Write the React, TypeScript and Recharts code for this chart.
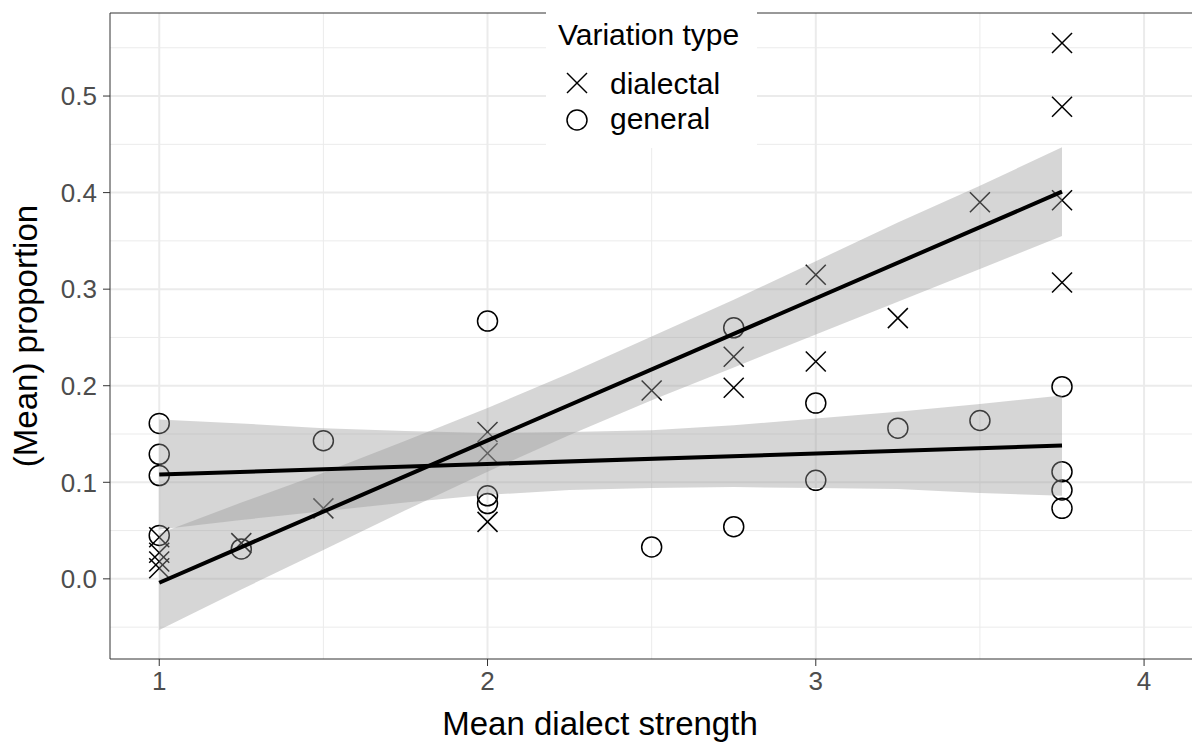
import React from "react";
import {
  Area,
  CartesianGrid,
  ComposedChart,
  Legend,
  Line,
  ReferenceLine,
  Scatter,
  XAxis,
  YAxis,
} from "recharts";

const dialectalX = [1, 1, 1, 1, 1.25, 1.5, 2, 2, 2, 2.5, 2.75, 2.75, 3, 3, 3.25, 3.5, 3.75, 3.75, 3.75, 3.75];
const dialectalY = [0.043, 0.027, 0.018, 0.011, 0.037, 0.073, 0.152, 0.13, 0.059, 0.195, 0.23, 0.198, 0.315, 0.225, 0.27, 0.39, 0.555, 0.489, 0.392, 0.307];

const generalX = [1, 1, 1, 1, 1.25, 1.5, 2, 2, 2, 2.5, 2.75, 2.75, 3, 3, 3.25, 3.5, 3.75, 3.75, 3.75, 3.75];
const generalY = [0.161, 0.129, 0.107, 0.045, 0.031, 0.143, 0.267, 0.086, 0.078, 0.033, 0.26, 0.054, 0.182, 0.102, 0.156, 0.164, 0.199, 0.111, 0.092, 0.073];

// fitted lines (lm) and their confidence bands
const fitX = [1, 3.75];
const dialectalFit = [-0.004, 0.401];
const generalFit = [0.108, 0.138];

const bandX = [1, 1.25, 1.5, 1.75, 2, 2.25, 2.5, 2.75, 3, 3.25, 3.5, 3.75];
const dialectalLow = [-0.053, -0.011, 0.03, 0.071, 0.111, 0.149, 0.185, 0.219, 0.253, 0.287, 0.321, 0.355];
const dialectalHigh = [0.047, 0.079, 0.11, 0.143, 0.177, 0.213, 0.251, 0.289, 0.329, 0.369, 0.407, 0.447];
const generalLow = [0.051, 0.061, 0.07, 0.079, 0.087, 0.092, 0.094, 0.095, 0.094, 0.093, 0.089, 0.086];
const generalHigh = [0.165, 0.161, 0.156, 0.153, 0.151, 0.152, 0.154, 0.159, 0.166, 0.173, 0.181, 0.19];

const xTicks = [1, 2, 3, 4];
const xMinor = [1.5, 2.5, 3.5];
const yTicks = [0, 0.1, 0.2, 0.3, 0.4, 0.5];
const yMinor = [-0.05, 0.05, 0.15, 0.25, 0.35, 0.45, 0.55];

const X_DOMAIN: [number, number] = [0.85, 4.146];
const Y_DOMAIN: [number, number] = [-0.083, 0.586];

const FONT = "'Liberation Sans', Arial, Helvetica, sans-serif";

const dialectalPoints = dialectalX.map((x, i) => ({ x, y: dialectalY[i] }));
const generalPoints = generalX.map((x, i) => ({ x, y: generalY[i] }));
const dialectalLine = fitX.map((x, i) => ({ x, y: dialectalFit[i] }));
const generalLine = fitX.map((x, i) => ({ x, y: generalFit[i] }));
const dialectalBand = bandX.map((x, i) => ({ x, lo: dialectalLow[i], hi: dialectalHigh[i] }));
const generalBand = bandX.map((x, i) => ({ x, lo: generalLow[i], hi: generalHigh[i] }));

function CrossShape(props: any) {
  const { cx, cy } = props;
  const s = 10;
  return (
    <g stroke="#000" strokeWidth={1.5}>
      <line x1={cx - s} y1={cy - s} x2={cx + s} y2={cy + s} />
      <line x1={cx - s} y1={cy + s} x2={cx + s} y2={cy - s} />
    </g>
  );
}

function CircleShape(props: any) {
  const { cx, cy } = props;
  return <circle cx={cx} cy={cy} r={10} fill="none" stroke="#000" strokeWidth={1.5} />;
}

function LegendBox() {
  return (
    <svg width={211} height={148} style={{ display: "block" }}>
      <rect x={0} y={0} width={211} height={148} fill="#fff" />
      <text x={12} y={45} fontSize={30} fontFamily={FONT} fill="#000">
        Variation type
      </text>
      <CrossShape cx={31} cy={83} />
      <text x={64} y={94} fontSize={30} fontFamily={FONT} fill="#000">
        dialectal
      </text>
      <CircleShape cx={31} cy={120} />
      <text x={64} y={129} fontSize={30} fontFamily={FONT} fill="#000">
        general
      </text>
    </svg>
  );
}

export default function App() {
  return (
    <div style={{ position: "absolute", left: 0, top: 0, width: 1192, height: 745, background: "#fff" }}>
      <ComposedChart width={1192} height={745} margin={{ top: 13, right: 0, bottom: 0, left: 0 }}>
        <CartesianGrid
          horizontalValues={yMinor}
          verticalValues={xMinor}
          stroke="#EBEBEB"
          strokeWidth={1}
          fill="none"
        />
        <CartesianGrid
          horizontalValues={yTicks}
          verticalValues={xTicks}
          stroke="#EBEBEB"
          strokeWidth={2}
          fill="none"
        />
        <XAxis
          type="number"
          dataKey="x"
          domain={X_DOMAIN}
          ticks={xTicks}
          allowDataOverflow
          height={86}
          tickSize={7}
          tickMargin={6}
          stroke="#333"
          tick={{ fill: "#4D4D4D", fontSize: 26, fontFamily: FONT }}
        />
        <YAxis
          type="number"
          dataKey="y"
          domain={Y_DOMAIN}
          ticks={yTicks}
          allowDataOverflow
          width={110}
          tickSize={7}
          tickMargin={6}
          stroke="#333"
          tickFormatter={(v: number) => v.toFixed(1)}
          tick={{ fill: "#4D4D4D", fontSize: 26, fontFamily: FONT }}
        />
        <ReferenceLine y={Y_DOMAIN[1]} stroke="#333" strokeWidth={1} />
        <Scatter data={dialectalPoints} dataKey="y" shape={<CrossShape />} isAnimationActive={false} zIndex={50} />
        <Scatter data={generalPoints} dataKey="y" shape={<CircleShape />} isAnimationActive={false} zIndex={50} />
        <Area
          data={dialectalBand}
          dataKey={(d: any) => [d.lo, d.hi]}
          type="linear"
          stroke="none"
          fill="#999999"
          fillOpacity={0.4}
          isAnimationActive={false}
          zIndex={100}
        />
        <Area
          data={generalBand}
          dataKey={(d: any) => [d.lo, d.hi]}
          type="linear"
          stroke="none"
          fill="#999999"
          fillOpacity={0.4}
          isAnimationActive={false}
          zIndex={100}
        />
        <Line data={dialectalLine} dataKey="y" stroke="#000" strokeWidth={4} dot={false} isAnimationActive={false} zIndex={400} />
        <Line data={generalLine} dataKey="y" stroke="#000" strokeWidth={4} dot={false} isAnimationActive={false} zIndex={400} />
        <Legend
          layout="horizontal"
          verticalAlign="middle"
          content={() => <LegendBox />}
          wrapperStyle={{ position: "absolute", left: 546, top: 0, width: 211, height: 148 }}
        />
        <text x={600} y={735} textAnchor="middle" fontSize={33} fontFamily={FONT} fill="#000">
          Mean dialect strength
        </text>
        <text
          x={37}
          y={336}
          textAnchor="middle"
          fontSize={33}
          fontFamily={FONT}
          fill="#000"
          transform="rotate(-90 37 336)"
        >
          (Mean) proportion
        </text>
      </ComposedChart>
    </div>
  );
}
